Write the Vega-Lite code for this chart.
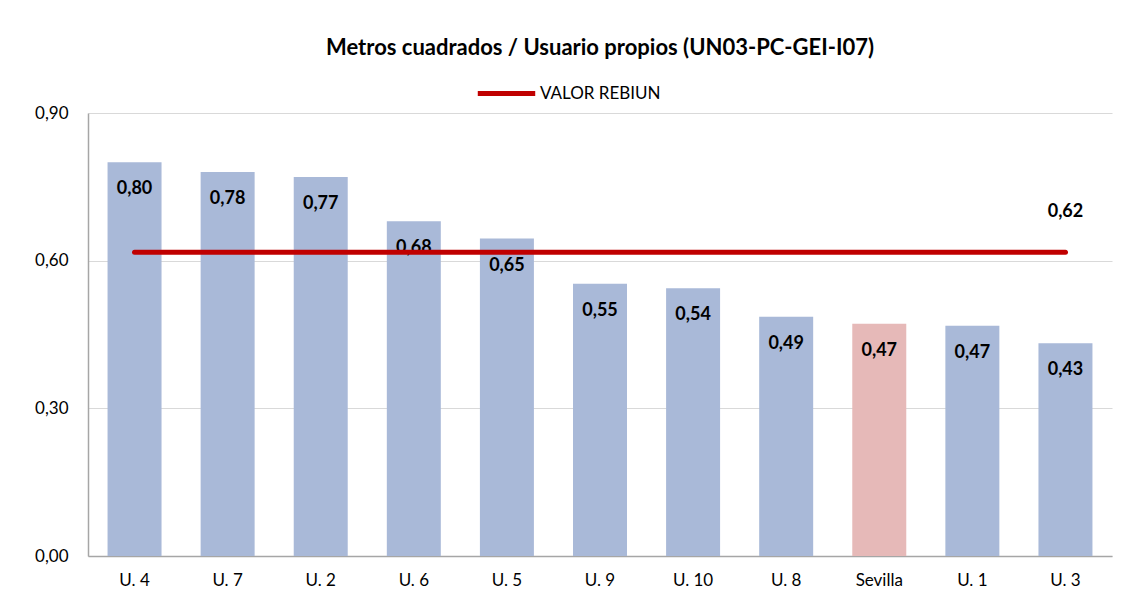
{
  "$schema": "https://vega.github.io/schema/vega-lite/v6.json",
  "width": 1024,
  "height": 443,
  "padding": {"left": 34, "top": 37, "right": 19, "bottom": 5},
  "background": "white",
  "config": {
    "locale": {"number": {"decimal": ",", "thousands": ".", "grouping": [3], "currency": ["", " €"]}},
    "font": "Lato",
    "view": {"stroke": null}
  },
  "title": {
    "text": "Metros cuadrados / Usuario propios (UN03-PC-GEI-I07)",
    "font": "Lato",
    "fontSize": 22,
    "fontWeight": "bold",
    "color": "#000000",
    "anchor": "middle",
    "offset": 2
  },
  "data": {
    "values": [
      {"univ": "U. 4", "valor": 0.80, "rebiun": 0.617, "tipo": "otra"},
      {"univ": "U. 7", "valor": 0.78, "rebiun": 0.617, "tipo": "otra"},
      {"univ": "U. 2", "valor": 0.77, "rebiun": 0.617, "tipo": "otra"},
      {"univ": "U. 6", "valor": 0.68, "rebiun": 0.617, "tipo": "otra"},
      {"univ": "U. 5", "valor": 0.645, "rebiun": 0.617, "tipo": "otra"},
      {"univ": "U. 9", "valor": 0.553, "rebiun": 0.617, "tipo": "otra"},
      {"univ": "U. 10", "valor": 0.544, "rebiun": 0.617, "tipo": "otra"},
      {"univ": "U. 8", "valor": 0.486, "rebiun": 0.617, "tipo": "otra"},
      {"univ": "Sevilla", "valor": 0.472, "rebiun": 0.617, "tipo": "sevilla"},
      {"univ": "U. 1", "valor": 0.468, "rebiun": 0.617, "tipo": "otra"},
      {"univ": "U. 3", "valor": 0.432, "rebiun": 0.617, "tipo": "otra"}
    ]
  },
  "encoding": {
    "x": {
      "field": "univ",
      "type": "nominal",
      "sort": null,
      "scale": {"paddingInner": 0.42, "paddingOuter": 0.21},
      "axis": {
        "title": null,
        "labelAngle": 0,
        "labelFont": "Lato",
        "labelFontSize": 17,
        "labelColor": "#000000",
        "labelPadding": 16,
        "ticks": false,
        "domainColor": "#A6A6A6",
        "domainWidth": 1.5,
        "grid": false
      }
    }
  },
  "layer": [
    {
      "mark": {"type": "bar"},
      "encoding": {
        "y": {
          "field": "valor",
          "type": "quantitative",
          "scale": {"domain": [0, 0.9]},
          "axis": {
            "title": null,
            "values": [0, 0.3, 0.6, 0.9],
            "format": ".2f",
            "labelFont": "Lato",
            "labelFontSize": 17,
            "labelColor": "#000000",
            "labelPadding": 20,
            "ticks": false,
            "domainColor": "#A6A6A6",
            "domainWidth": 1.5,
            "grid": true,
            "gridColor": "#D9D9D9",
            "gridWidth": 1
          }
        },
        "color": {
          "field": "tipo",
          "type": "nominal",
          "scale": {"domain": ["otra", "sevilla"], "range": ["#A9B9D8", "#E6B9B8"]},
          "legend": null
        }
      }
    },
    {
      "mark": {"type": "text", "baseline": "middle", "dy": 27, "fontWeight": "bold", "fontSize": 18, "font": "Lato", "color": "#000000"},
      "encoding": {
        "y": {"field": "valor", "type": "quantitative"},
        "text": {"field": "valor", "type": "quantitative", "format": ".2f"}
      }
    },
    {
      "mark": {"type": "line", "strokeWidth": 5, "strokeCap": "round"},
      "encoding": {
        "y": {"field": "rebiun", "type": "quantitative"},
        "color": {
          "datum": "VALOR REBIUN",
          "type": "nominal",
          "scale": {"domain": ["VALOR REBIUN"], "range": ["#C00000"]},
          "legend": {
            "title": null,
            "orient": "none",
            "legendX": 387,
            "legendY": -51,
            "direction": "horizontal",
            "symbolType": "stroke",
            "symbolStrokeWidth": 5,
            "symbolSize": 3300,
            "labelFont": "Lato",
            "labelFontSize": 17,
            "labelColor": "#000000",
            "labelOffset": 2
          }
        }
      }
    },
    {
      "transform": [{"filter": "datum.univ === 'U. 3'"}],
      "mark": {"type": "text", "baseline": "middle", "dy": -40, "fontWeight": "bold", "fontSize": 18, "font": "Lato", "color": "#000000"},
      "encoding": {
        "y": {"field": "rebiun", "type": "quantitative"},
        "text": {"value": "0,62"}
      }
    }
  ],
  "resolve": {"scale": {"color": "independent"}}
}
